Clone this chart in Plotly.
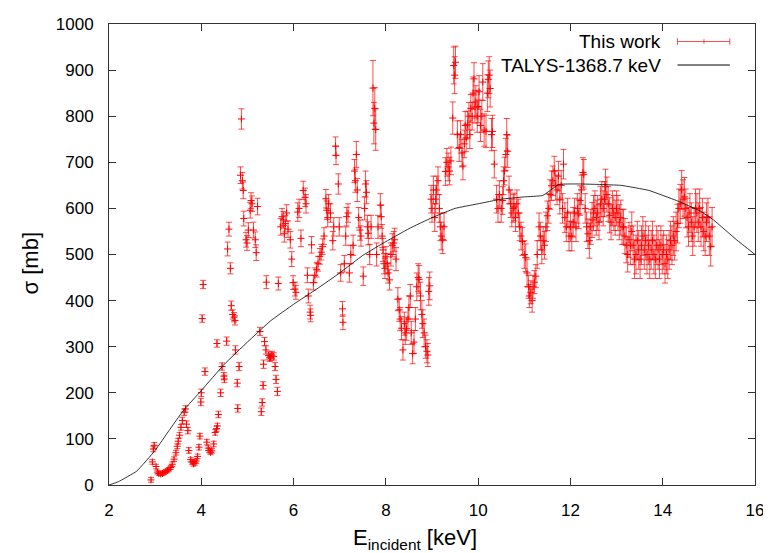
import plotly.graph_objects as go

# ---- measured data: This work (E [keV], sigma [mb], error [mb]) ----
E_low = [2.91, 2.94, 2.96, 2.98, 3.02, 3.05, 3.08, 3.12, 3.16, 3.19, 3.23, 3.27, 3.30, 3.34, 3.37,
         3.41, 3.45, 3.48, 3.50, 3.53, 3.56, 3.59, 3.63, 3.66, 3.68, 3.71, 3.73, 3.77, 3.80, 3.83,
         3.86, 3.89, 3.92, 3.95, 3.97, 3.99, 4.00, 4.02, 4.04, 4.08, 4.12, 4.15, 4.17, 4.20, 4.23,
         4.27, 4.30, 4.33, 4.35, 4.37, 4.42, 4.45, 4.49, 4.50, 4.34, 4.55, 4.65, 4.68, 4.71, 4.73,
         4.74, 4.78, 4.79, 4.82]
S_low = [11, 50, 78, 86, 40, 28, 25, 24, 25, 27, 29, 32, 34, 38, 45,
         56, 70, 84, 95, 108, 125, 140, 158, 165, 132, 118, 75, 55, 50, 46,
         48, 52, 62, 82, 106, 180, 200, 361, 435, 246, 93, 80, 75, 71, 74,
         89, 114, 122, 128, 153, 200, 257, 236, 230, 307, 312, 389, 370, 364, 357,
         293, 221, 166, 257]
D_low = [5, 5, 6, 6, 5, 4, 4, 4, 4, 4, 4, 4, 4, 4, 5,
         5, 5, 5, 6, 6, 6, 7, 7, 7, 7, 7, 6, 5, 5, 5,
         5, 5, 5, 6, 6, 8, 8, 8, 9, 8, 6, 5, 5, 5, 5,
         6, 6, 6, 6, 7, 8, 8, 8, 8, 8, 9, 10, 10, 10, 10,
         9, 8, 8, 9]

E_mid = [5.27, 5.30, 5.32, 5.34, 5.35, 5.37, 5.40, 5.46, 5.48, 5.50, 5.53, 5.57, 5.60, 5.62, 5.65,
         4.57, 4.60, 4.63, 4.85, 4.87, 4.89, 4.91, 4.92, 4.97, 4.99, 5.02, 5.06, 5.08, 5.10, 5.13,
         5.17, 5.19, 5.22, 5.41, 5.67, 5.72, 5.75, 5.78, 5.80, 5.82, 5.85, 5.88, 5.93, 5.96, 5.99,
         6.03, 6.05, 6.09, 6.12, 6.16, 6.21, 6.25, 6.27, 6.30, 6.32, 6.36, 6.37, 6.39, 6.43, 6.46,
         6.50, 6.53, 6.57, 6.60, 6.63, 6.66, 6.70, 6.72, 6.74, 6.76, 6.80, 6.85, 6.87, 6.91, 6.92]
S_mid = [333, 159, 179, 216, 262, 311, 293, 281, 276, 278, 282, 279, 257, 229, 203,
         512, 555, 470, 672, 794, 660, 639, 578, 532, 525, 553, 596, 617, 610, 553,
         532, 504, 604, 440, 437, 560, 582, 575, 545, 567, 590, 555, 532, 490, 439,
         425, 418, 592, 600, 535, 639, 624, 610, 455, 410, 375, 368, 521, 439, 455,
         467, 480, 496, 505, 517, 540, 621, 596, 580, 610, 590, 530, 560, 735, 715]
D_mid = [9, 8, 8, 8, 9, 9, 9, 8, 8, 8, 8, 8, 9, 9, 9,
         15, 15, 12, 18, 22, 18, 18, 16, 16, 16, 16, 17, 17, 17, 17,
         17, 17, 18, 14, 14, 18, 18, 18, 18, 18, 18, 18, 18, 16, 15,
         15, 15, 20, 20, 18, 20, 20, 20, 16, 15, 15, 14, 18, 16, 16,
         16, 16, 17, 17, 17, 18, 20, 20, 20, 20, 20, 20, 20, 20, 20]

E_hi = [6.97, 6.99, 7.02, 7.06, 7.07, 7.10, 7.13, 7.15, 7.18, 7.21, 7.24, 7.29, 7.32, 7.34, 7.36,
        7.38, 7.41, 7.44, 7.46, 7.51, 7.54, 7.56, 7.58, 7.60, 7.62, 7.65, 7.68, 7.72, 7.74, 7.76,
        7.78, 7.80, 7.83, 7.88, 7.90, 7.92, 7.94, 7.96, 7.98, 8.00, 8.03, 8.05, 8.08, 8.11, 8.14,
        8.17, 8.19, 8.22, 8.26, 8.29, 8.31, 8.34, 8.37, 8.40, 8.42, 8.45, 8.48, 8.50, 8.53, 8.55,
        8.58, 8.61, 8.64, 8.67, 8.70, 8.72, 8.75, 8.78, 8.80, 8.83, 8.86, 8.89, 8.91, 8.93, 8.95,
        8.98, 9.00, 9.03, 9.06, 9.08, 9.10, 9.13, 9.16, 9.18, 9.20, 9.23, 9.26, 9.29, 9.32, 9.35,
        9.38, 9.41, 9.45, 9.47, 9.49, 9.51, 9.55, 9.59, 9.62, 9.65, 9.67, 9.70, 9.72, 9.74, 9.77,
        9.80, 9.82, 9.84, 9.87, 9.89, 9.91, 9.93, 9.95, 9.98, 10.00, 10.02, 10.05, 10.08, 10.10, 10.13,
        10.17, 10.20, 10.22, 10.24, 10.26, 10.29, 10.31, 10.35, 10.40, 10.43, 10.46, 10.50, 10.53, 10.55, 10.57,
        10.60, 10.62, 10.64, 10.67, 10.70, 10.73, 10.76, 10.78, 10.81, 10.84, 10.87, 10.90, 10.93, 10.96, 11.00,
        11.03, 11.06, 11.09, 11.11, 11.14, 11.17, 11.19, 11.22, 11.25, 11.28, 11.32, 11.35, 11.38, 11.41, 11.44]
S_hi = [653, 560, 460, 382, 353, 480, 540, 582, 590, 460, 500, 520, 681, 660, 717,
        640, 580, 553, 540, 453, 600, 653, 635, 560, 546, 500, 560, 861, 785, 817,
        771, 500, 560, 607, 582, 540, 510, 480, 470, 495, 480, 460, 445, 500, 520,
        525, 532, 490, 403, 380, 360, 340, 293, 350, 330, 339, 360, 385, 410, 330,
        285, 310, 360, 430, 450, 446, 410, 370, 350, 330, 300, 290, 282, 420, 432,
        620, 600, 640, 580, 620, 640, 660, 600, 560, 540, 532, 560, 680, 700, 690,
        681, 703, 796, 910, 889, 917, 760, 732, 760, 720, 692, 740, 780, 753, 781,
        800, 760, 817, 800, 850, 881, 820, 831, 800, 821, 853, 780, 800, 874, 770,
        767, 850, 880, 889, 860, 760, 767, 696, 620, 600, 630, 600, 617, 660, 681,
        717, 760, 724, 640, 610, 590, 600, 603, 580, 610, 590, 560, 540, 528, 500,
        493, 460, 430, 410, 418, 400, 430, 440, 453, 500, 560, 540, 510, 530, 520]
D_hi = [22, 20, 18, 16, 16, 18, 20, 20, 20, 20, 20, 22, 25, 25, 28,
        25, 22, 22, 22, 20, 25, 28, 25, 25, 25, 22, 25, 60, 45, 45,
        45, 25, 25, 25, 25, 25, 25, 22, 22, 22, 22, 22, 22, 25, 25,
        25, 25, 25, 25, 25, 25, 25, 22, 25, 25, 25, 25, 25, 25, 25,
        22, 25, 25, 30, 30, 30, 30, 30, 30, 30, 25, 25, 25, 30, 30,
        30, 30, 30, 30, 30, 30, 30, 30, 30, 30, 30, 30, 30, 30, 30,
        30, 30, 35, 40, 40, 35, 30, 30, 30, 30, 30, 30, 30, 30, 30,
        30, 30, 30, 30, 35, 35, 35, 35, 35, 35, 35, 35, 35, 40, 35,
        35, 40, 40, 40, 40, 35, 35, 30, 30, 30, 30, 30, 30, 30, 30,
        35, 35, 35, 30, 30, 30, 30, 30, 30, 30, 30, 30, 30, 30, 30,
        30, 30, 25, 25, 25, 25, 25, 25, 25, 30, 30, 30, 30, 30, 30]

E_top = [11.47, 11.50, 11.53, 11.56, 11.59, 11.62, 11.65, 11.68, 11.71, 11.74, 11.77, 11.80, 11.83, 11.85, 11.88,
         11.91, 11.94, 11.97, 12.00, 12.03, 12.06, 12.09, 12.12, 12.15, 12.18, 12.21, 12.24, 12.27, 12.29, 12.32,
         12.35, 12.38, 12.41, 12.44, 12.47, 12.50, 12.53, 12.56, 12.59, 12.62, 12.65, 12.68, 12.71, 12.74, 12.76,
         12.79, 12.82, 12.85, 12.88, 12.91, 12.94, 12.97, 13.00, 13.03, 13.06, 13.09, 13.12, 13.15, 13.18, 13.21,
         13.24, 13.27, 13.30, 13.33, 13.36, 13.39, 13.42, 13.45, 13.48, 13.51, 13.54, 13.57, 13.60, 13.63, 13.66,
         13.69, 13.72, 13.75, 13.78, 13.81, 13.84, 13.87, 13.90, 13.93, 13.96, 13.99, 14.02, 14.05, 14.08, 14.11,
         14.14, 14.17, 14.20, 14.23, 14.26, 14.29, 14.32, 14.35, 14.38, 14.41, 14.44, 14.47, 14.50, 14.53, 14.56,
         14.59, 14.62, 14.65, 14.68, 14.71, 14.74, 14.77, 14.80, 14.83, 14.86, 14.89, 14.92, 14.95, 14.98, 15.01,
         15.04, 15.07]
S_top = [560, 584, 600, 630, 649, 660, 681, 650, 640, 670, 620, 650, 600, 696, 580,
         560, 590, 540, 560, 540, 570, 590, 560, 600, 588, 617, 640, 678, 674, 600,
         560, 545, 530, 560, 575, 590, 600, 580, 590, 570, 610, 620, 600, 620, 647,
         630, 610, 585, 570, 600, 590, 580, 600, 590, 570, 580, 560, 560, 540, 520,
         500, 532, 520, 550, 520, 490, 500, 530, 510, 490, 520, 540, 510, 530, 500,
         520, 490, 510, 530, 500, 490, 520, 510, 490, 520, 500, 510, 480, 500, 490,
         510, 530, 520, 540, 530, 550, 567, 600, 610, 640, 620, 625, 600, 580, 560,
         590, 570, 540, 560, 600, 590, 570, 600, 560, 580, 550, 540, 570, 580, 540,
         517, 560]
D_top = [32] * 32 + [38] * 30 + [42] * 60

E_data = E_low + E_mid + E_hi + E_top
S_data = S_low + S_mid + S_hi + S_top
D_data = D_low + D_mid + D_hi + D_top

# ---- TALYS calculation ----
E_talys = [2.0, 2.2, 2.6, 3.0, 3.3, 3.6, 4.0, 4.5, 5.0, 5.5, 6.0, 6.5, 7.0, 7.5, 8.0, 8.5,
           9.0, 9.5, 10.0, 10.5, 11.0, 11.4, 11.75, 12.2, 12.6, 13.1, 13.7, 14.3, 14.8, 15.1, 15.6, 16.0]
S_talys = [0, 7, 30, 75, 118, 160, 205, 262, 310, 356, 392, 425, 460, 498, 528, 556,
           580, 600, 610, 620, 625, 628, 652, 653, 652, 650, 639, 617, 595, 575, 532, 500]

x_ticks = [2, 4, 6, 8, 10, 12, 14, 16]
y_ticks = [0, 100, 200, 300, 400, 500, 600, 700, 800, 900, 1000]

FONT = "Liberation Sans, Arial, Helvetica, sans-serif"
RED = "rgba(255,0,0,0.7)"

fig = go.Figure()
fig.add_trace(go.Scatter(
    x=E_data, y=S_data, mode="markers", name="This work",
    marker=dict(symbol="cross-thin", size=5, color="red", line=dict(width=1, color="red")),
    error_y=dict(type="data", array=D_data, visible=True, color=RED, thickness=1, width=3),
    showlegend=False,
))
fig.add_trace(go.Scatter(
    x=E_talys, y=S_talys, mode="lines", name="TALYS-1368.7 keV",
    line=dict(color="rgba(0,0,0,0.8)", width=1, shape="spline", smoothing=0.3),
    showlegend=False,
))

axis_common = dict(
    showgrid=False, zeroline=False, showline=True, linecolor="#333", linewidth=1,
    mirror="ticks", ticks="inside", ticklen=7, tickcolor="#333",
    tickfont=dict(family=FONT, size=17, color="black"),
    ticklabeloverflow="allow",
)
fig.update_xaxes(range=[2, 16], tickvals=x_ticks, ticktext=[str(v) for v in x_ticks],
                 ticklabelstandoff=10, **axis_common)
fig.update_yaxes(range=[0, 1000], tickvals=y_ticks, ticktext=[str(v) for v in y_ticks],
                 ticklabelstandoff=11, **axis_common)

# axis titles (placed like the gnuplot original) and legend (text right-aligned, key on the right)
ann = [
    dict(x=0.473, y=-0.117, xref="paper", yref="paper", text="E<sub>incident</sub> [keV]", showarrow=False,
         xanchor="center", yanchor="middle", font=dict(family=FONT, size=22, color="black")),
    dict(x=-0.122, y=0.481, xref="paper", yref="paper", text="σ [mb]", showarrow=False, textangle=-90,
         xanchor="center", yanchor="middle", font=dict(family=FONT, size=22, color="black")),
    dict(x=0.857, y=0.962, xref="paper", yref="paper", text="This work", showarrow=False,
         xanchor="right", yanchor="middle", font=dict(family=FONT, size=19, color="black")),
    dict(x=0.857, y=0.911, xref="paper", yref="paper", text="TALYS-1368.7 keV", showarrow=False,
         xanchor="right", yanchor="middle", font=dict(family=FONT, size=19, color="black")),
]
shapes = [
    dict(type="line", xref="paper", yref="paper", x0=0.880, x1=0.961, y0=0.962, y1=0.962,
         line=dict(color=RED, width=1)),
    dict(type="line", xref="paper", yref="paper", x0=0.880, x1=0.880, y0=0.955, y1=0.969,
         line=dict(color=RED, width=1)),
    dict(type="line", xref="paper", yref="paper", x0=0.961, x1=0.961, y0=0.955, y1=0.969,
         line=dict(color=RED, width=1)),
    dict(type="line", xref="paper", yref="paper", x0=0.921, x1=0.921, y0=0.957, y1=0.967,
         line=dict(color=RED, width=1)),
    dict(type="line", xref="paper", yref="paper", x0=0.880, x1=0.961, y0=0.911, y1=0.911,
         line=dict(color="black", width=1)),
]

# the page body keeps its default 8px margin, so the figure is 8px smaller
# and the margins are shifted to put the plot frame where the reference has it
fig.update_layout(
    width=763, height=545, autosize=False,
    margin=dict(l=101, r=13, t=7, b=68),
    paper_bgcolor="white", plot_bgcolor="white",
    annotations=ann, shapes=shapes,
    font=dict(family=FONT, size=16, color="black"),
)

fig.write_html("out.html", config={"displayModeBar": False})
